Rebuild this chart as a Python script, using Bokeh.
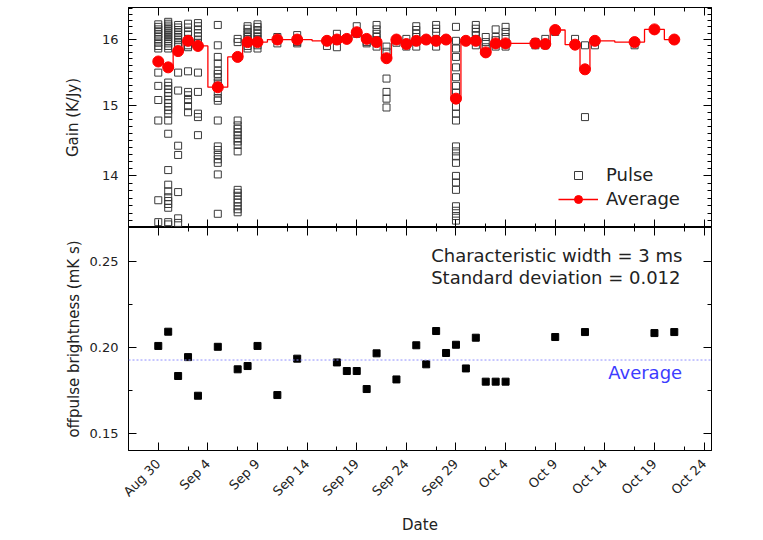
import numpy as np
import pandas as pd
from bokeh.plotting import figure
from bokeh.layouts import column
from bokeh.models import (Range1d, FixedTicker, DatetimeAxis, LogAxis, LinearAxis,
                          CustomJSTickFormatter, PrintfTickFormatter, Legend, LegendItem, Span)
from bokeh.embed import file_html
from bokeh.resources import INLINE
from bokeh.core.properties import value

FONT = "DejaVu Sans"

# ---------------- data ----------------
avg_dates = ["2009-08-30", "2009-08-31", "2009-09-01", "2009-09-02", "2009-09-03", "2009-09-05",
             "2009-09-07", "2009-09-08", "2009-09-09", "2009-09-11", "2009-09-13", "2009-09-16",
             "2009-09-17", "2009-09-18", "2009-09-19", "2009-09-20", "2009-09-21", "2009-09-22",
             "2009-09-23", "2009-09-24", "2009-09-25", "2009-09-26", "2009-09-27", "2009-09-28",
             "2009-09-29", "2009-09-30", "2009-10-01", "2009-10-02", "2009-10-03", "2009-10-04",
             "2009-10-07", "2009-10-08", "2009-10-09", "2009-10-11", "2009-10-12", "2009-10-13",
             "2009-10-17", "2009-10-19", "2009-10-21"]
avg_gain = [15.66, 15.57, 15.82, 15.98, 15.90, 15.27,
            15.73, 15.96, 15.96, 16.00, 16.00, 15.98,
            16.00, 16.01, 16.115, 16.01, 15.96, 15.71,
            16.00, 15.93, 15.98, 16.00, 15.98, 16.00,
            15.10, 15.98, 15.98, 15.80, 15.94, 15.94,
            15.94, 15.93, 16.15, 15.92, 15.54, 15.98,
            15.96, 16.16, 16.00]

pulse_dates = ["2009-08-30", "2009-08-31", "2009-09-01", "2009-09-02", "2009-09-03", "2009-09-05",
               "2009-09-07", "2009-09-08", "2009-09-09", "2009-09-11", "2009-09-13", "2009-09-16",
               "2009-09-17", "2009-09-19", "2009-09-20", "2009-09-21", "2009-09-22", "2009-09-23",
               "2009-09-24", "2009-09-25", "2009-09-27", "2009-09-29", "2009-10-01", "2009-10-02",
               "2009-10-03", "2009-10-04", "2009-10-07", "2009-10-08", "2009-10-09", "2009-10-11",
               "2009-10-12", "2009-10-13", "2009-10-17"]
pulse_gains = [
    [16.24, 16.20, 16.16, 16.12, 16.08, 16.04, 16.00, 15.95, 15.90, 15.86, 15.49, 15.29, 15.08, 14.78, 13.67, 13.38],
    [16.28, 16.25, 16.22, 16.19, 16.16, 16.13, 16.10, 16.07, 16.04, 16.01, 15.98, 15.94, 15.90, 15.86,
     15.34, 15.29, 15.24, 15.19, 15.14, 15.08, 15.03, 14.98, 14.93, 14.88, 14.78, 14.59, 14.08,
     13.88, 13.79, 13.71, 13.66, 13.62, 13.57, 13.38, 13.35],
    [16.23, 16.19, 16.15, 16.11, 16.07, 16.03, 15.99, 15.95, 15.91, 15.49, 15.22, 14.42, 14.29, 13.78, 13.43, 13.37],
    [16.25, 16.19, 16.12, 16.07, 16.01, 15.96, 15.91, 15.88, 15.51, 15.20, 15.15, 15.08, 14.99, 14.90],
    [16.26, 16.21, 16.16, 16.10, 16.05, 16.00, 15.95, 15.90, 15.49, 15.20, 14.88, 14.83, 14.57],
    [16.23, 15.91, 15.73, 15.63, 15.52, 15.47, 15.42, 15.34, 15.29, 15.19, 15.11, 15.07, 14.78,
     14.41, 14.36, 14.29, 14.23, 14.18, 14.02, 13.49],
    [16.01, 15.96, 14.78, 14.71, 14.66, 14.61, 14.57, 14.52, 14.48, 14.43, 14.34,
     13.81, 13.77, 13.73, 13.68, 13.64, 13.59, 13.55, 13.51],
    [16.21, 16.17, 16.12, 16.08, 16.04, 16.00, 15.95, 15.90, 15.86],
    [16.24, 16.20, 16.15, 16.10, 16.05, 16.01, 15.96, 15.91, 15.86],
    [16.04, 15.99, 15.94],
    [16.07, 16.01, 15.96, 15.94],
    [15.98, 15.90],
    [16.09, 15.99, 15.88],
    [16.21, 16.09],
    [15.96, 15.94],
    [16.23, 16.16, 16.09, 16.04, 15.99, 15.89],
    [15.89, 15.81, 15.40, 15.20, 15.10, 14.97],
    [16.00, 15.95],
    [16.01, 15.89],
    [16.21, 16.15, 16.09, 16.04, 15.99, 15.89],
    [16.23, 16.17, 16.12, 15.99, 15.89],
    [16.20, 15.98, 15.86, 15.73, 15.57, 15.42, 15.29, 15.19, 14.98, 14.88, 14.78,
     14.41, 14.34, 14.27, 14.18, 14.00, 13.91, 13.81, 13.59, 13.53, 13.46, 13.40],
    [16.23, 16.17, 16.12, 16.07, 15.99, 15.91],
    [16.04, 15.96, 15.88],
    [16.16, 16.04, 15.99, 15.89],
    [16.20, 16.12, 16.04, 15.94, 15.89],
    [15.96, 15.91],
    [16.01, 15.91],
    [16.12],
    [16.01],
    [15.91, 14.83],
    [15.91],
    [15.91],
]

off_dates = ["2009-08-30", "2009-08-31", "2009-09-01", "2009-09-02", "2009-09-03", "2009-09-05",
             "2009-09-07", "2009-09-08", "2009-09-09", "2009-09-11", "2009-09-13", "2009-09-17",
             "2009-09-18", "2009-09-19", "2009-09-20", "2009-09-21", "2009-09-23", "2009-09-25",
             "2009-09-26", "2009-09-27", "2009-09-28", "2009-09-29", "2009-09-30", "2009-10-01",
             "2009-10-02", "2009-10-03", "2009-10-04", "2009-10-09", "2009-10-12", "2009-10-19",
             "2009-10-21"]
off_bright = [0.2008, 0.2091, 0.1833, 0.1943, 0.1718, 0.2003,
              0.1872, 0.1891, 0.2008, 0.1722, 0.1934, 0.1912,
              0.1862, 0.1862, 0.1757, 0.1965, 0.1813, 0.2012,
              0.1901, 0.2095, 0.1967, 0.2015, 0.1877, 0.2056,
              0.1800, 0.1800, 0.1800, 0.2060, 0.2089, 0.2083,
              0.2089]
off_avg = 0.1926

major_dates = ["2009-08-30", "2009-09-04", "2009-09-09", "2009-09-14", "2009-09-19", "2009-09-24",
               "2009-09-29", "2009-10-04", "2009-10-09", "2009-10-14", "2009-10-19", "2009-10-24"]
minor_dates = ["2009-09-02", "2009-09-07", "2009-09-12", "2009-09-17", "2009-09-22", "2009-09-27",
               "2009-10-02", "2009-10-07", "2009-10-12", "2009-10-17", "2009-10-22"]
gain_ticks = [14, 15, 16]
gain_minor = [13.4, 13.5, 13.6, 13.7, 13.8, 13.9, 14.1, 14.2, 14.3, 14.4, 14.5, 14.6, 14.7, 14.8, 14.9,
              15.1, 15.2, 15.3, 15.4, 15.5, 15.6, 15.7, 15.8, 15.9, 16.1, 16.2, 16.3, 16.4, 16.5]
off_ticks = [0.15, 0.20, 0.25]
off_minor = [0.175, 0.225]

# ---------------- helpers ----------------
def ms(d):
    return pd.Timestamp(d).value // 10**6

x_ticker = FixedTicker(ticks=[ms(d) for d in major_dates], minor_ticks=[ms(d) for d in minor_dates])
date_fmt = CustomJSTickFormatter(code="""
const d = new Date(tick);
const m = ['Jan','Feb','Mar','Apr','May','Jun','Jul','Aug','Sep','Oct','Nov','Dec'][d.getUTCMonth()];
return m + ' ' + d.getUTCDate();
""")
blank_fmt = CustomJSTickFormatter(code="return '';")

xr = Range1d(pd.Timestamp("2009-08-27"), pd.Timestamp("2009-10-24 18:00"))


def style_axis(ax, labels=True, font_size="13px"):
    ax.axis_line_color = "black"
    ax.major_tick_line_color = "black"
    ax.minor_tick_line_color = "black"
    ax.major_tick_in = 8
    ax.major_tick_out = 0
    ax.minor_tick_in = 4
    ax.minor_tick_out = 0
    ax.major_label_text_font = FONT
    ax.major_label_text_color = "#222222"
    ax.axis_label_text_font = FONT
    ax.axis_label_text_font_style = "normal"
    ax.axis_label_text_color = "#222222"
    ax.axis_label_text_font_size = "15px"
    if labels:
        ax.major_label_text_font_size = font_size
    else:
        ax.formatter = blank_fmt
        ax.major_label_text_font_size = "1px"
        ax.major_label_standoff = 0
        ax.axis_label = None


W, LEFT, RIGHT = 751, 128, 40

# ---------------- top panel ----------------
p1 = figure(width=W, height=227, x_axis_type="datetime", y_axis_type="log",
            x_range=xr, y_range=Range1d(13.31, 16.51),
            toolbar_location=None, output_backend="svg",
            min_border_left=LEFT, min_border_right=RIGHT, min_border_top=7, min_border_bottom=0)
p1.xgrid.visible = False
p1.ygrid.visible = False
p1.outline_line_color = "black"

p1.xaxis.ticker = x_ticker
style_axis(p1.xaxis[0], labels=False)
p1.yaxis.ticker = FixedTicker(ticks=gain_ticks, minor_ticks=gain_minor)
p1.yaxis.formatter = PrintfTickFormatter(format="%d")
p1.yaxis.axis_label = "Gain (K/Jy)"
style_axis(p1.yaxis[0], labels=True)
p1.yaxis.major_label_standoff = 10
p1.yaxis.axis_label_standoff = 17

top_ax = DatetimeAxis(ticker=x_ticker)
style_axis(top_ax, labels=False)
p1.add_layout(top_ax, "above")
right_ax = LogAxis(ticker=FixedTicker(ticks=gain_ticks, minor_ticks=gain_minor))
style_axis(right_ax, labels=False)
p1.add_layout(right_ax, "right")

px, py = [], []
for d, gs in zip(pulse_dates, pulse_gains):
    for g in gs:
        px.append(pd.Timestamp(d))
        py.append(g)

sq = p1.scatter(px, py, marker="square", size=7, fill_color=None, line_color="#3a3a3a", line_width=1)
avg_x = [pd.Timestamp(d) for d in avg_dates]
st = p1.step(avg_x, avg_gain, mode="center", line_color="#ff0000", line_width=1.3)
ci = p1.scatter(avg_x, avg_gain, marker="circle", size=11, fill_color="#ff0000", line_color="#ff0000")

legend = Legend(items=[LegendItem(label="Pulse", renderers=[sq]),
                       LegendItem(label="Average", renderers=[st, ci])],
                location=(430, 18), orientation="vertical",
                border_line_color=None, background_fill_alpha=0,
                padding=0, margin=0, spacing=3, glyph_width=40, glyph_height=20,
                label_height=20, label_standoff=8,
                label_text_font=FONT, label_text_font_size="18px", label_text_color="#222222")
p1.add_layout(legend, "center")

# ---------------- bottom panel ----------------
p2 = figure(width=W, height=311, x_axis_type="datetime",
            x_range=xr, y_range=Range1d(0.1399, 0.2698),
            toolbar_location=None, output_backend="svg",
            min_border_left=LEFT, min_border_right=RIGHT, min_border_top=0, min_border_bottom=88)
p2.xgrid.visible = False
p2.ygrid.visible = False
p2.outline_line_color = "black"

p2.xaxis.ticker = x_ticker
p2.xaxis.formatter = date_fmt
p2.xaxis.axis_label = "Date"
style_axis(p2.xaxis[0], labels=True, font_size="13px")
p2.xaxis.major_label_orientation = np.pi / 4
p2.xaxis.major_label_standoff = 11
p2.xaxis.axis_label_standoff = 8

p2.yaxis.ticker = FixedTicker(ticks=off_ticks, minor_ticks=off_minor)
p2.yaxis.formatter = PrintfTickFormatter(format="%.2f")
p2.yaxis.axis_label = "offpulse brightness (mK s)"
style_axis(p2.yaxis[0], labels=True)
p2.yaxis.major_label_standoff = 10
p2.yaxis.axis_label_standoff = 4

top_ax2 = DatetimeAxis(ticker=x_ticker)
style_axis(top_ax2, labels=False)
p2.add_layout(top_ax2, "above")
right_ax2 = LinearAxis(ticker=FixedTicker(ticks=off_ticks, minor_ticks=off_minor))
style_axis(right_ax2, labels=False)
p2.add_layout(right_ax2, "right")

p2.add_layout(Span(location=off_avg, dimension="width", line_color="#9090ff",
                   line_dash="2 2", line_width=1))
p2.scatter([pd.Timestamp(d) for d in off_dates], off_bright, marker="square", size=7,
           fill_color="black", line_color="black")

p2.text(x=[pd.Timestamp("2009-09-26 12:00"), pd.Timestamp("2009-09-26 12:00")],
        y=[0.2535, 0.2407],
        text=["Characteristic width = 3 ms", "Standard deviation = 0.012"],
        text_font=value(FONT), text_font_size="18px", text_baseline="middle",
        text_align="left", text_color="#222222")
p2.text(x=[pd.Timestamp("2009-10-21 19:00")], y=[0.1856], text=["Average"],
        text_font=value(FONT), text_font_size="18px", text_baseline="middle",
        text_align="right", text_color="#3c3cff")

layout = column(p1, p2, spacing=0)
open("out.html", "w").write(file_html(layout, INLINE))
